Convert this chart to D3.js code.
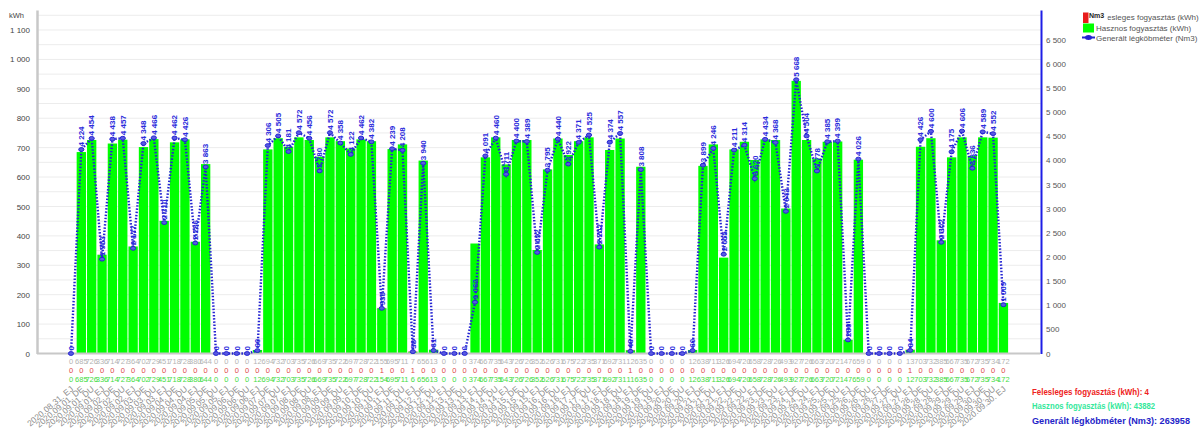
<!DOCTYPE html>
<html><head><meta charset="utf-8">
<script src="https://cdn.jsdelivr.net/npm/d3@7"></script>
<style>
html,body{margin:0;padding:0;background:#fff;}
svg{display:block;font-family:"Liberation Sans",Arial,sans-serif;}
</style></head><body>
<svg id="chart" width="1200" height="430"></svg>
<script>
const categories = [
"2020.08.31. EJ",
"2020.09.01. DE","2020.09.01. DU","2020.09.01. EJ",
"2020.09.02. DE","2020.09.02. DU","2020.09.02. EJ",
"2020.09.03. DE","2020.09.03. DU","2020.09.03. EJ",
"2020.09.04. DE","2020.09.04. DU","2020.09.04. EJ",
"2020.09.05. DE","2020.09.05. DU","2020.09.05. EJ",
"2020.09.06. DE","2020.09.06. DU","2020.09.06. EJ",
"2020.09.07. DE","2020.09.07. DU","2020.09.07. EJ",
"2020.09.08. DE","2020.09.08. DU","2020.09.08. EJ",
"2020.09.09. DE","2020.09.09. DU","2020.09.09. EJ",
"2020.09.10. DE","2020.09.10. DU","2020.09.10. EJ",
"2020.09.11. DE","2020.09.11. DU","2020.09.11. EJ",
"2020.09.12. DE","2020.09.12. DU","2020.09.12. EJ",
"2020.09.13. DE","2020.09.13. DU","2020.09.13. EJ",
"2020.09.14. DE","2020.09.14. DU","2020.09.14. EJ",
"2020.09.15. DE","2020.09.15. DU","2020.09.15. EJ",
"2020.09.16. DE","2020.09.16. DU","2020.09.16. EJ",
"2020.09.17. DE","2020.09.17. DU","2020.09.17. EJ",
"2020.09.18. DE","2020.09.18. DU","2020.09.18. EJ",
"2020.09.19. DE","2020.09.19. DU","2020.09.19. EJ",
"2020.09.20. DE","2020.09.20. DU","2020.09.20. EJ",
"2020.09.21. DE","2020.09.21. DU","2020.09.21. EJ",
"2020.09.22. DE","2020.09.22. DU","2020.09.22. EJ",
"2020.09.23. DE","2020.09.23. DU","2020.09.23. EJ",
"2020.09.24. DE","2020.09.24. DU","2020.09.24. EJ",
"2020.09.25. DE","2020.09.25. DU","2020.09.25. EJ",
"2020.09.26. DE","2020.09.26. DU","2020.09.26. EJ",
"2020.09.27. DE","2020.09.27. DU","2020.09.27. EJ",
"2020.09.28. DE","2020.09.28. DU","2020.09.28. EJ",
"2020.09.29. DE","2020.09.29. DU","2020.09.29. EJ",
"2020.09.30. DE","2020.09.30. DU","2020.09.30. EJ"
];

// Hasznos fogyasztás (kWh)
const hasznos = [
0,
685,726,336,
714,727,364,
702,729,451,
718,728,380,
644,0,0,
0,0,12,
694,732,703,
735,726,669,
735,722,697,
728,722,154,
695,711,6,
656,13,0,
0,0,374,
667,735,643,
726,726,352,
626,731,675,
722,735,371,
692,731,11,
635,0,0,
0,0,12,
638,711,326,
694,720,658,
728,726,493,
927,726,663,
720,721,47,
659,0,0,
0,0,12,
703,732,385,
667,735,672,
735,734,172
];

// Felesleges fogyasztás (kWh)
const felesleges = [
0,
0,0,0, 0,0,0, 0,0,0, 0,0,0, 0,0,0, 0,0,0,
0,0,0, 0,0,0, 0,0,0, 0,0,1, 0,0,1, 0,0,0,
0,0,0, 0,0,0, 0,0,0, 0,0,0, 0,0,0, 0,0,1,
0,0,0, 0,0,0, 0,0,0, 0,0,0, 0,0,0, 0,0,0,
0,0,0, 0,0,0, 0,0,1, 0,0,0, 0,0,0, 0,0,0
];

// Generált légköbméter (Nm3)
const generalt = [
0,
4224,4454,1953,
4438,4457,2177,
4348,4466,2710,
4462,4426,2286,
3863,0,0,
0,0,60,
4306,4505,4181,
4572,4456,3780,
4572,4358,4122,
4462,4382,935,
4239,4208,38,
3940,61,0,
0,0,1062,
4091,4460,3711,
4400,4389,2092,
3795,4440,3922,
4371,4525,2202,
4374,4557,46,
3808,0,0,
0,0,60,
3899,4246,2055,
4211,4314,3620,
4434,4368,2943,
5668,4504,3778,
4385,4399,280,
4026,0,0,
0,0,64,
4426,4600,2302,
4175,4606,3836,
4589,4552,1009
];

const leftTicks = [0,100,200,300,400,500,600,700,800,900,1000,1100];
const gridTicks = [50,100,150,200,250,300,350,400,450,500,550,600,650,700,750,800,850,900,950,1000,1050,1100,1150];
const rightTicks = [0,500,1000,1500,2000,2500,3000,3500,4000,4500,5000,5500,6000,6500];
const legendLabels = ["Felesleges fogyasztás (kWh)","Hasznos fogyasztás (kWh)","Generált légköbméter (Nm3)"];
const summaryLabels = ["Felesleges fogyasztás (kWh): ","Hasznos fogyasztás (kWh): ","Generált légköbméter (Nm3): "];
const summaryTotals = [4, 43882, 263958];
const leftUnit = "kWh";
const rightUnit = "Nm3";

const colGreen = "#00ff00", colRed = "#e81c1c", colBlue = "#2323d2";

const svg = d3.select("#chart");
const loc = d3.formatLocale({decimal:",", thousands:"\u00a0", grouping:[3], currency:["",""]});
const fmt = loc.format(",d");

const yBase = 353.5, yTop = 10;
const xL = 37, xR = 1041;
const x = d3.scaleBand().domain(categories).range([66.3, 1008.1]).paddingInner(0.1).paddingOuter(0);
const bw = x.bandwidth();
const cx = d => x(d) + bw/2;
const yL = d3.scaleLinear().domain([0,1168]).range([yBase, yTop]);
const yR = d3.scaleLinear().domain([0,7112]).range([yBase, yTop]);

// grid
svg.append("g").selectAll("line").data(gridTicks).join("line")
  .attr("x1", xL).attr("x2", xR).attr("y1", d=>yL(d)).attr("y2", d=>yL(d))
  .attr("stroke", "#ececec").attr("stroke-width", 1);

// bars
const rows = categories.map((c,i)=>({c, g:hasznos[i], r:felesleges[i], n:generalt[i]}));
svg.append("g").selectAll("rect").data(rows).join("rect")
  .attr("x", d=>x(d.c)).attr("width", bw)
  .attr("y", d=>yL(d.g)).attr("height", d=>yBase - yL(d.g))
  .attr("fill", colGreen);
svg.append("g").selectAll("rect").data(rows.filter(d=>d.r>0)).join("rect")
  .attr("x", d=>x(d.c)).attr("width", bw)
  .attr("y", d=>yL(d.g+d.r)).attr("height", d=>yL(d.g)-yL(d.g+d.r))
  .attr("fill", colRed);

// axes
const gL = svg.append("g").attr("transform", `translate(${xL},0)`)
  .call(d3.axisLeft(yL).tickValues(leftTicks).tickSize(0).tickPadding(7).tickFormat(fmt));
gL.select(".domain").attr("stroke", "#c8c8c8").attr("stroke-width", 2.5);
gL.selectAll("text").attr("font-size", 8).attr("fill", "#444").attr("font-family", "Liberation Sans, Arial, sans-serif");

const gR = svg.append("g").attr("transform", `translate(${xR},0)`)
  .call(d3.axisRight(yR).tickValues(rightTicks).tickSize(0).tickPadding(5).tickFormat(fmt));
gR.select(".domain").attr("stroke", "#1e1ee6").attr("stroke-width", 2);
gR.selectAll("text").attr("font-size", 8).attr("fill", "#555").attr("font-family", "Liberation Sans, Arial, sans-serif");

svg.append("line").attr("x1", xL).attr("x2", xR-1).attr("y1", yBase).attr("y2", yBase)
  .attr("stroke", "#c8c8c8").attr("stroke-width", 2);

svg.append("text").attr("x", 9).attr("y", 18).attr("font-size", 7.5).attr("fill", "#444").text(leftUnit);

// line
const line = d3.line().x(d=>cx(d.c)).y(d=>yR(d.n));
svg.append("path").datum(rows).attr("d", line)
  .attr("fill", "none").attr("stroke", colBlue).attr("stroke-width", 2.4)
  .attr("stroke-dasharray", "1.5 1.7");
svg.append("g").selectAll("ellipse").data(rows).join("ellipse")
  .attr("cx", d=>cx(d.c)).attr("cy", d=>yR(d.n)).attr("rx", 2.6).attr("ry", 1.9)
  .attr("fill", "#5a5ae0").attr("stroke", colBlue).attr("stroke-width", 1);
svg.append("g").selectAll("text").data(rows).join("text")
  .attr("transform", d=>`translate(${cx(d.c)},${yR(d.n)-3}) rotate(-90)`)
  .attr("dy", "0.35em").attr("text-anchor", "start")
  .attr("font-size", 8).attr("font-weight", "bold").attr("fill", "#2b2bdc")
  .text(d=>fmt(d.n));

// data table rows
const tableRows = [
  {y:363.5, col:"#b4b4b4", f:d=>d.g+d.r},
  {y:372.5, col:"#e04848", f:d=>d.r},
  {y:381.5, col:"#44dd44", f:d=>d.g}
];
tableRows.forEach(t=>{
  svg.append("g").selectAll("text").data(rows).join("text")
    .attr("x", d=>cx(d.c)).attr("y", t.y).attr("text-anchor", "middle")
    .attr("font-size", 7.5).attr("fill", t.col).text(d=>t.f(d));
});

// category labels
svg.append("g").selectAll("text").data(categories).join("text")
  .attr("transform", d=>`translate(${cx(d)+3},390) rotate(-40)`)
  .attr("text-anchor", "end").attr("font-size", 8.5).attr("fill", "#8c8c8c")
  .text(d=>d);

// legend
const lg = svg.append("g");
lg.append("rect").attr("x",1083).attr("y",12.5).attr("width",11).attr("height",10.5).attr("fill",colRed);
lg.append("rect").attr("x",1083).attr("y",23.5).attr("width",11).attr("height",9).attr("fill",colGreen);
lg.append("line").attr("x1",1082).attr("x2",1095).attr("y1",37.5).attr("y2",37.5).attr("stroke",colBlue).attr("stroke-width",2);
lg.append("ellipse").attr("cx",1088.5).attr("cy",37.5).attr("rx",3.5).attr("ry",2.5).attr("fill",colBlue);
lg.selectAll("text.lt").data(legendLabels).join("text").attr("class","lt")
  .attr("x",1096).attr("y",(d,i)=>[19.5,30.5,40.5][i]).attr("font-size",8).attr("fill","#555").text(d=>d);
lg.append("rect").attr("x",1088.5).attr("y",10).attr("width",19).attr("height",13).attr("fill","#fff");
lg.append("text").attr("x",1089).attr("y",17.5).attr("font-size",7).attr("font-weight","bold").attr("fill","#222").text(rightUnit);

// summary
const sumCols = ["#ee2222","#33e89b","#2424c8"];
const sumWidths = [117,123,158];
svg.append("g").selectAll("text").data(summaryLabels).join("text")
  .attr("x",1032).attr("y",(d,i)=>[395,409,424][i])
  .attr("font-size",9.5).attr("font-weight","bold")
  .attr("fill",(d,i)=>sumCols[i])
  .attr("textLength",(d,i)=>sumWidths[i]).attr("lengthAdjust","spacingAndGlyphs")
  .text((d,i)=>d + summaryTotals[i]);
</script>
</body></html>
